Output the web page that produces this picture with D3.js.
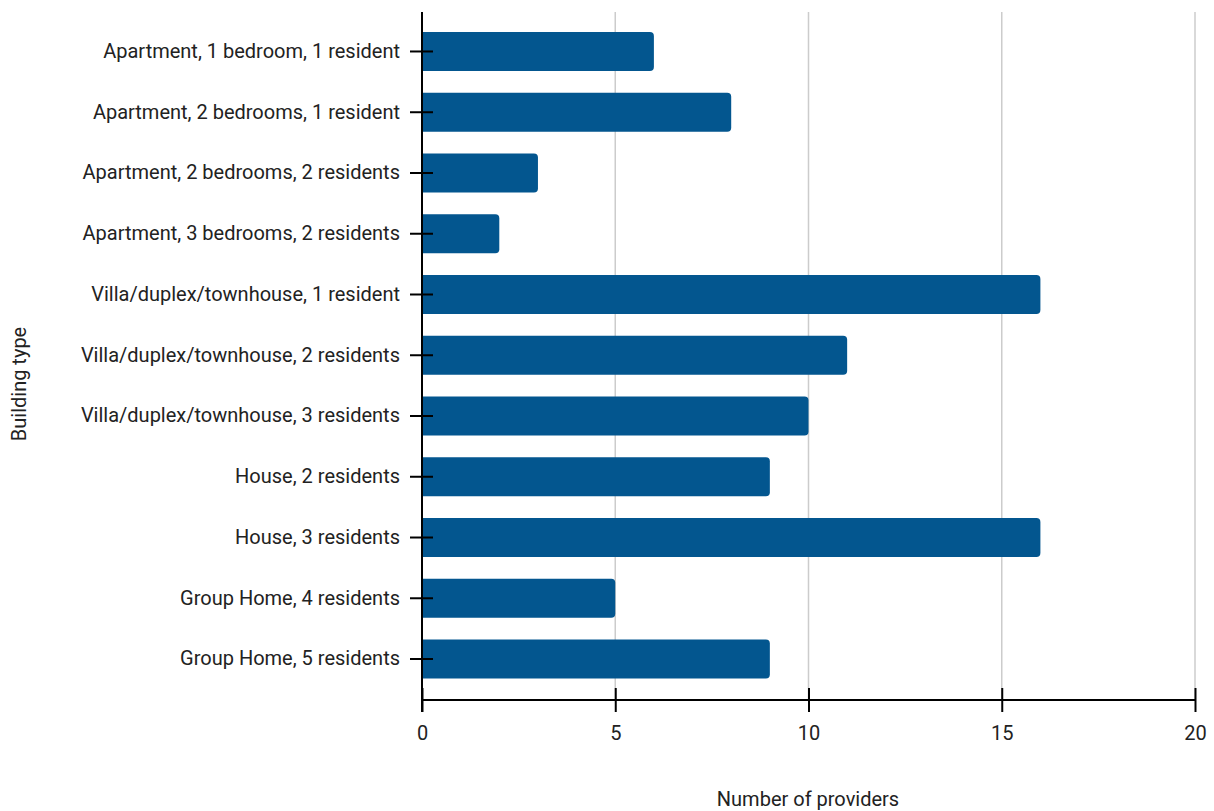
<!DOCTYPE html>
<html>
<head>
<meta charset="utf-8">
<script src="https://cdn.jsdelivr.net/npm/d3@7"></script>
<style>
  body { margin: 0; background: #fff; }
  svg { display: block; font-family: Roboto, sans-serif; }
</style>
</head>
<body>
<svg id="chart" width="1214" height="811"></svg>
<script>
const categories = [
  "Apartment, 1 bedroom, 1 resident",
  "Apartment, 2 bedrooms, 1 resident",
  "Apartment, 2 bedrooms, 2 residents",
  "Apartment, 3 bedrooms, 2 residents",
  "Villa/duplex/townhouse, 1 resident",
  "Villa/duplex/townhouse, 2 residents",
  "Villa/duplex/townhouse, 3 residents",
  "House, 2 residents",
  "House, 3 residents",
  "Group Home, 4 residents",
  "Group Home, 5 residents"
];
const providers = [6, 8, 3, 2, 16, 11, 10, 9, 16, 5, 9];
const xTicks = [0, 5, 10, 15, 20];
const xTitle = "Number of providers";
const yTitle = "Building type";

const svg = d3.select("#chart");
const plotLeft = 422, plotRight = 1195, plotTop = 12, plotBottom = 700;
const fs = 20;

const x = d3.scaleLinear().domain([0, 20]).range([plotLeft, plotRight]);
const y = d3.scaleBand().domain(categories).range([21.1, 689.4]).paddingInner(0.358).paddingOuter(0.179);

// gridlines
svg.append("g").selectAll("line").data(xTicks.filter(d => d > 0)).join("line")
  .attr("x1", d => x(d)).attr("x2", d => x(d))
  .attr("y1", plotTop).attr("y2", plotBottom)
  .attr("stroke", "#cccccc").attr("stroke-width", 1.5);

// bars with rounded right end
const r = 4;
svg.append("g").selectAll("path").data(categories).join("path")
  .attr("fill", "#03568f")
  .attr("d", (c, i) => {
    const x0 = x(0), x1 = x(providers[i]), y0 = y(c), h = y.bandwidth();
    const rr = Math.min(r, (x1 - x0) / 2);
    return `M${x0},${y0}H${x1 - rr}Q${x1},${y0} ${x1},${y0 + rr}V${y0 + h - rr}Q${x1},${y0 + h} ${x1 - rr},${y0 + h}H${x0}Z`;
  });

// y axis
const yAxis = svg.append("g").attr("transform", `translate(${plotLeft},0)`)
  .call(d3.axisLeft(y).tickSize(12).tickPadding(10));
yAxis.select(".domain").remove();
yAxis.selectAll(".tick line").attr("x2", 11).attr("x1", -12).attr("stroke", "#000").attr("stroke-width", 2);
yAxis.selectAll(".tick text").attr("font-size", fs).attr("fill", "#222").attr("font-family", "Roboto, sans-serif")
  .attr("x", -22);
svg.append("line").attr("x1", plotLeft).attr("x2", plotLeft).attr("y1", plotTop).attr("y2", plotBottom + 12)
  .attr("stroke", "#000").attr("stroke-width", 2);

// x axis
const xAxis = svg.append("g").attr("transform", `translate(0,${plotBottom})`)
  .call(d3.axisBottom(x).tickValues(xTicks).tickSize(12).tickPadding(10));
xAxis.select(".domain").remove();
xAxis.selectAll(".tick line").attr("y1", -12).attr("y2", 12).attr("stroke", "#000").attr("stroke-width", 2);
xAxis.selectAll(".tick text").attr("font-size", fs).attr("fill", "#222").attr("font-family", "Roboto, sans-serif")
  .attr("y", 26);
svg.append("line").attr("x1", plotLeft).attr("x2", plotRight).attr("y1", plotBottom).attr("y2", plotBottom)
  .attr("stroke", "#000").attr("stroke-width", 2);

// titles
svg.append("text").attr("x", 808).attr("y", 806).attr("text-anchor", "middle")
  .attr("font-size", fs).attr("fill", "#222").text(xTitle);
svg.append("text").attr("transform", "translate(26,384) rotate(-90)").attr("text-anchor", "middle")
  .attr("font-size", fs).attr("fill", "#222").text(yTitle);
</script>
</body>
</html>
